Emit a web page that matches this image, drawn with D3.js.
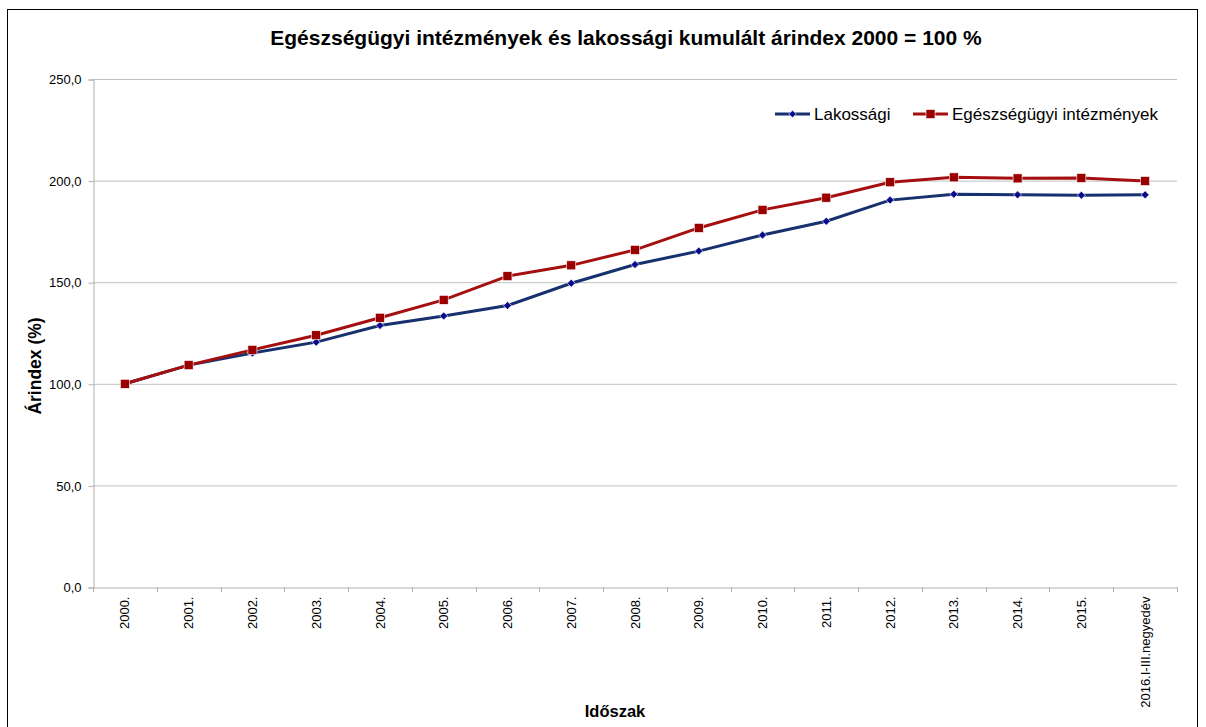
<!DOCTYPE html>
<html><head><meta charset="utf-8">
<script src="https://cdn.jsdelivr.net/npm/d3@7"></script>
<style>body{margin:0;background:#fff}svg{display:block;font-family:"Liberation Sans",Arial,sans-serif}</style>
</head><body><svg id="c" width="1206" height="727"></svg>
<script>
const categories = ["2000.","2001.","2002.","2003.","2004.","2005.","2006.","2007.","2008.","2009.","2010.","2011.","2012.","2013.","2014.","2015.","2016.I-III.negyedév"];
const lakossagi = [100.0,109.2,115.1,120.5,128.7,133.4,138.5,149.5,158.7,165.3,173.2,180.0,190.4,193.3,193.0,192.8,193.0];
const egeszsegugyi = [100.0,109.2,116.7,123.9,132.5,141.3,153.0,158.3,165.9,176.7,185.6,191.6,199.2,201.6,201.1,201.3,199.8];
const yTicks = [0,50,100,150,200,250];
const seriesNames = ["Lakossági","Egészségügyi intézmények"];

const svg = d3.select("#c");
const m={l:93,r:1177,t:79,b:587};
svg.append("rect").attr("x",7.5).attr("y",9.5).attr("width",1190).attr("height",730).attr("fill","#fff").attr("stroke","#000").attr("stroke-width",1);

const x = d3.scaleBand().domain(categories).range([m.l,m.r]);
const y = d3.scaleLinear().domain([0,250]).range([m.b,m.t]);
const fmt = v => d3.format(".1f")(v).replace(".",",");

svg.append("g").selectAll("line").data(yTicks.filter(d=>d>0)).join("line")
  .attr("x1",m.l).attr("x2",m.r).attr("y1",d=>y(d)+0.5).attr("y2",d=>y(d)+0.5)
  .attr("stroke","#c0c0c0").attr("stroke-width",1);

const ya = svg.append("g").attr("transform",`translate(${m.l+0.5},0.5)`)
  .call(d3.axisLeft(y).tickValues(yTicks).tickFormat(fmt).tickSize(5).tickPadding(7));
ya.select(".domain").attr("stroke","#b0b0b0");
ya.selectAll(".tick line").attr("stroke","#b0b0b0");
ya.selectAll("text").attr("font-size",13).attr("fill","#000").attr("font-family","Liberation Sans, Arial, sans-serif");

const xa = svg.append("g").attr("transform",`translate(0,${m.b+0.5})`)
  .call(d3.axisBottom(x).tickSize(0).tickPadding(0));
xa.select(".domain").attr("stroke","#b0b0b0");
xa.selectAll(".tick text").attr("font-size",13).attr("fill","#000").attr("font-family","Liberation Sans, Arial, sans-serif")
  .attr("transform","rotate(-90)").attr("text-anchor","end").attr("dy","0.35em").attr("x",-9).attr("y",0);
const bounds = categories.map(c=>x(c)).concat([m.r]);
svg.append("g").selectAll("line").data(bounds).join("line")
  .attr("x1",d=>Math.round(d)+0.5).attr("x2",d=>Math.round(d)+0.5).attr("y1",m.b).attr("y2",m.b+5)
  .attr("stroke","#b0b0b0");

const cx = c => x(c)+x.bandwidth()/2;
const line = d3.line().x((d,i)=>cx(categories[i])).y(d=>y(d));

const blue="#16316e", blueM="#0a0a8c", red="#a50f0f", redM="#9a0000";
svg.append("path").datum(lakossagi).attr("d",line).attr("fill","none").attr("stroke",blue).attr("stroke-width",3);
svg.append("path").datum(egeszsegugyi).attr("d",line).attr("fill","none").attr("stroke",red).attr("stroke-width",3);

svg.append("g").selectAll("path").data(lakossagi).join("path")
  .attr("d",d3.symbol().type(d3.symbolSquare).size(32))
  .attr("transform",(d,i)=>`translate(${cx(categories[i])},${y(d)}) rotate(45)`)
  .attr("fill",blueM).attr("stroke","#fff").attr("stroke-width",0.6);
svg.append("g").selectAll("rect").data(egeszsegugyi).join("rect")
  .attr("x",(d,i)=>cx(categories[i])-4.5).attr("y",d=>y(d)-4.5).attr("width",9).attr("height",9)
  .attr("fill",redM).attr("stroke","#fff").attr("stroke-width",0.6);

const leg = svg.append("g").attr("font-size",17);
const legItems=[{x:775,c:blue,mc:blueM,t:seriesNames[0],sq:false},{x:913,c:red,mc:redM,t:seriesNames[1],sq:true}];
legItems.forEach(it=>{
  leg.append("line").attr("x1",it.x).attr("x2",it.x+35).attr("y1",114).attr("y2",114).attr("stroke",it.c).attr("stroke-width",3);
  if(it.sq) leg.append("rect").attr("x",it.x+17.5-4.5).attr("y",114-4.5).attr("width",9).attr("height",9).attr("fill",it.mc).attr("stroke","#fff").attr("stroke-width",0.6);
  else leg.append("path").attr("d",d3.symbol().type(d3.symbolSquare).size(28)).attr("transform",`translate(${it.x+17.5},114) rotate(45)`).attr("fill",it.mc).attr("stroke","#fff").attr("stroke-width",0.6);
  leg.append("text").attr("x",it.x+39).attr("y",114).attr("dy","0.35em").text(it.t).attr("fill","#000");
});

svg.append("text").attr("x",626).attr("y",45).attr("text-anchor","middle").attr("font-size",21).attr("font-weight","bold").text("Egészségügyi intézmények és lakossági kumulált árindex 2000 = 100 %");
svg.append("text").attr("transform","translate(41,366) rotate(-90)").attr("text-anchor","middle").attr("font-size",17.5).attr("font-weight","bold").text("Árindex (%)");
svg.append("text").attr("x",615).attr("y",717).attr("text-anchor","middle").attr("font-size",16.5).attr("font-weight","bold").text("Időszak");
</script></body></html>
